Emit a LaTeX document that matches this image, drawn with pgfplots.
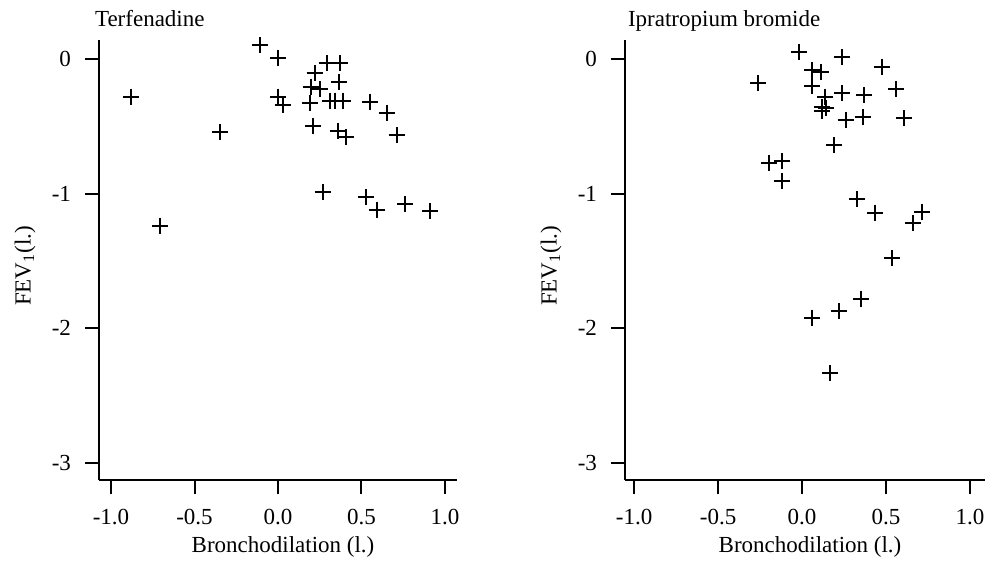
\documentclass[border=0pt]{standalone}
\usepackage{fontspec}
\setmainfont{Liberation Serif}
\usepackage{pgfplots}
\pgfplotsset{compat=1.18}
\pgfplotstableread{
x y
-0.108 0.104
0.0 0.005
0.295 -0.032
0.371 -0.032
0.22 -0.106
0.367 -0.173
0.20 -0.206
0.25 -0.225
-0.88 -0.28
0.0 -0.28
0.028 -0.34
0.19 -0.33
0.311 -0.31
0.341 -0.31
0.391 -0.31
0.551 -0.317
0.65 -0.40
0.21 -0.50
0.36 -0.535
0.41 -0.58
0.71 -0.565
-0.347 -0.54
0.267 -0.987
0.527 -1.024
0.59 -1.12
0.76 -1.078
0.91 -1.128
-0.707 -1.24
}\terf
\pgfplotstableread{
x y
-0.02 0.054
0.24 0.012
0.478 -0.057
-0.26 -0.18
0.061 -0.082
0.111 -0.094
0.058 -0.198
0.137 -0.28
0.24 -0.255
0.369 -0.268
0.558 -0.225
0.12 -0.355
0.14 -0.367
0.12 -0.387
0.26 -0.453
0.36 -0.43
0.607 -0.44
0.19 -0.64
-0.196 -0.776
-0.12 -0.758
-0.12 -0.907
0.326 -1.043
0.435 -1.14
0.716 -1.135
0.663 -1.217
0.534 -1.48
0.35 -1.78
0.22 -1.874
0.061 -1.92
0.167 -2.33
}\ipra
\pgfplotsset{
  panel/.style={
    scale only axis,
    height=220pt,
    axis x line=bottom,
    axis y line=left,
    axis line style={-, line width=1pt},
    tick style={line width=1pt, black},
    major tick length=7pt,
    tick align=outside,
    ymin=-3.126, ymax=0.141,
    ytick={-3,-2,-1,0},
    xtick={-1,-0.5,0,0.5,1},
    xticklabel style={/pgf/number format/fixed, /pgf/number format/precision=1, /pgf/number format/fixed zerofill, yshift=-4pt},
    yticklabel style={xshift=-3.5pt},
    /pgf/number format/assume math mode=true,
    tick label style={font=\fontsize{11.5}{13}\selectfont},
    label style={font=\fontsize{11.5}{13}\selectfont},
    title style={font=\fontsize{11.5}{13}\selectfont, at={(axis description cs:0,1)}, anchor=base west, yshift=0.5pt},
    xlabel={Bronchodilation (l.)},
    ylabel={FEV\textsubscript{1}(l.)},
    xlabel style={at={(axis description cs:0.5,0)}, anchor=center, yshift=-33.5pt, xshift=2.5pt},
    ylabel style={at={(axis description cs:0,0.5)}, anchor=center, yshift=37pt, xshift=-3pt},
    clip=false,
  },
}
\begin{document}
\begin{tikzpicture}
\path[use as bounding box] (0,0) rectangle (494.5pt,281pt);
\begin{axis}[panel, at={(49.5pt,41pt)}, anchor=south west, width=179pt,
  xmin=-1.072, xmax=1.072, title={Terfenadine}, title style={xshift=-5.5pt}]
\addplot[only marks, mark=+, mark size=4pt, line width=1pt, black] table[x=x,y=y] {\terf};
\end{axis}
\begin{axis}[panel, at={(312.5pt,41pt)}, anchor=south west, width=180pt,
  xmin=-1.054, xmax=1.089, title={Ipratropium bromide}, title style={xshift=-2pt}]
\addplot[only marks, mark=+, mark size=4pt, line width=1pt, black] table[x=x,y=y] {\ipra};
\end{axis}
\end{tikzpicture}
\end{document}
